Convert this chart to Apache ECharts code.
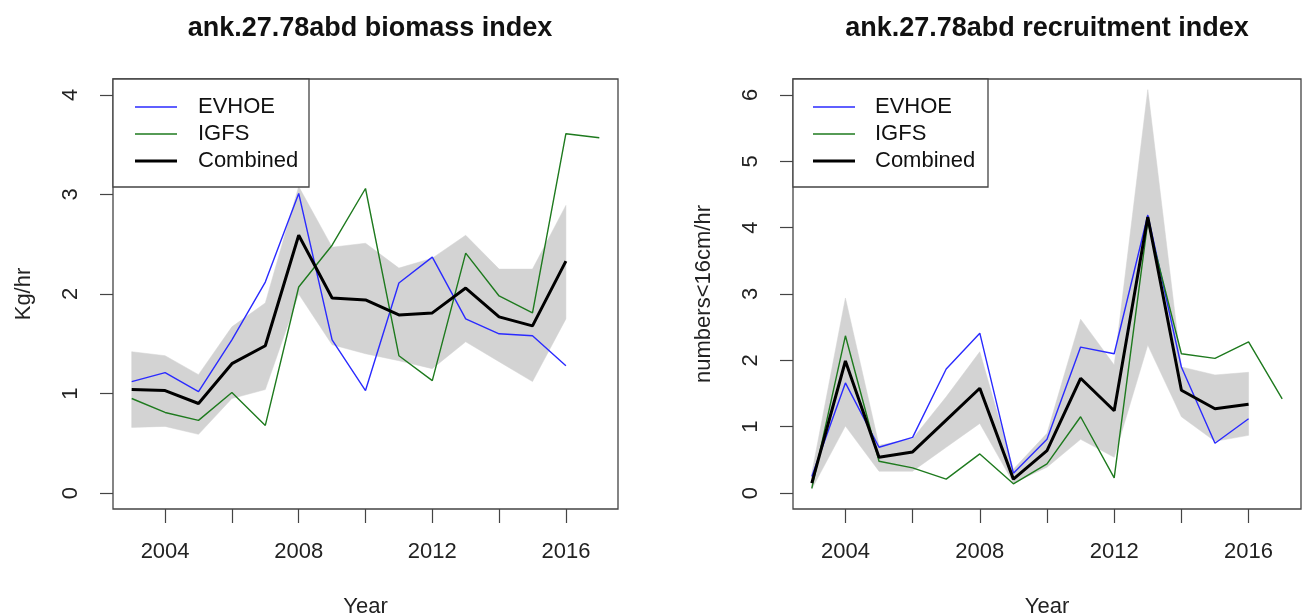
<!DOCTYPE html>
<html>
<head>
<meta charset="utf-8">
<script src="https://cdn.jsdelivr.net/npm/echarts@6/dist/echarts.min.js"></script>
<style>html,body{margin:0;padding:0;background:#fff;}#c{width:1305px;height:613px;}</style>
</head>
<body>
<div id="c"></div>
<script>
// ---- data ----
const years = [2003,2004,2005,2006,2007,2008,2009,2010,2011,2012,2013,2014,2015,2016];
const yearsIGFS = [2003,2004,2005,2006,2007,2008,2009,2010,2011,2012,2013,2014,2015,2016,2017];

const bioEVHOE = [1.12,1.21,1.02,1.54,2.12,3.01,1.54,1.03,2.11,2.37,1.75,1.60,1.58,1.28];
const bioIGFS  = [0.95,0.81,0.73,1.01,0.68,2.07,2.49,3.06,1.38,1.13,2.41,1.98,1.81,3.61,3.57];
const bioComb  = [1.04,1.03,0.90,1.30,1.48,2.59,1.96,1.94,1.79,1.81,2.06,1.77,1.68,2.33];
const bioUpper = [1.42,1.38,1.19,1.67,1.91,3.08,2.47,2.51,2.26,2.36,2.59,2.25,2.25,2.89];
const bioLower = [0.66,0.67,0.59,0.95,1.04,2.00,1.49,1.40,1.33,1.25,1.52,1.32,1.12,1.75];

const recEVHOE = [0.25,1.66,0.69,0.84,1.87,2.41,0.30,0.81,2.20,2.10,4.19,1.90,0.75,1.12];
const recIGFS  = [0.07,2.37,0.48,0.38,0.21,0.59,0.14,0.44,1.15,0.23,4.09,2.10,2.03,2.28,1.42];
const recComb  = [0.15,1.99,0.54,0.62,1.10,1.58,0.21,0.64,1.73,1.24,4.16,1.55,1.27,1.34];
const recUpper = [0.30,2.94,0.72,0.82,1.45,2.13,0.36,0.90,2.62,1.93,6.08,1.90,1.78,1.82];
const recLower = [0.06,1.01,0.33,0.33,0.69,1.05,0.15,0.39,0.81,0.54,2.23,1.15,0.78,0.87];

const xTicks = [2004,2006,2008,2010,2012,2014,2016];
const xLabels = [2004,2008,2012,2016];
const bioTicks = [0,1,2,3,4];
const recTicks = [0,1,2,3,4,5,6];

const titles = ['ank.27.78abd biomass index','ank.27.78abd recruitment index'];
const yNames = ['Kg/hr','numbers<16cm/hr'];
const xName = 'Year';
const seriesNames = ['EVHOE','IGFS','Combined'];

// ---- helpers ----
const FONT = '"Liberation Sans", Arial, sans-serif';
const pairs = (xs, ys) => ys.map((v, i) => [xs[i], v]);
const COL = {EVHOE: '#2a2aff', IGFS: '#1e7a1e', Combined: '#000000'};

function xAxis(gi) {
  return {
    type: 'value', gridIndex: gi, min: 2002.44, max: 2017.56, position: 'bottom',
    name: xName, nameLocation: 'middle', nameGap: 87,
    nameTextStyle: {fontFamily: FONT, fontSize: 22, color: '#222'},
    splitLine: {show: false}, axisLine: {show: false, onZero: false},
    axisTick: {show: true, inside: false, length: 14, customValues: xTicks, lineStyle: {color: '#444', width: 1.2}},
    axisLabel: {customValues: xLabels, margin: 32, fontFamily: FONT, fontSize: 22, color: '#222',
                formatter: v => String(v)}
  };
}
function yAxis(gi, ticks, mn, mx, nm) {
  return {
    type: 'value', gridIndex: gi, min: mn, max: mx, position: 'left',
    name: nm, nameLocation: 'middle', nameGap: 78, nameRotate: 90,
    nameTextStyle: {fontFamily: FONT, fontSize: 22, color: '#222'},
    splitLine: {show: false}, axisLine: {show: false, onZero: false},
    axisTick: {show: true, inside: false, length: 13, customValues: ticks, lineStyle: {color: '#444', width: 1.2}},
    axisLabel: {customValues: ticks, rotate: 90, margin: 31, fontFamily: FONT, fontSize: 22, color: '#222'}
  };
}
function bandSeries(gi, up, lo, tag) {
  return {
    type: 'custom', name: 'band' + tag, xAxisIndex: gi, yAxisIndex: gi, silent: true, z: 1,
    data: years.map((y, i) => [y, lo[i], up[i]]),
    encode: {x: 0, y: [1, 2]},
    renderItem: function (params, api) {
      if (params.dataIndex !== 0) return;
      const pts = [];
      for (let i = 0; i < years.length; i++) pts.push(api.coord([years[i], up[i]]));
      for (let i = years.length - 1; i >= 0; i--) pts.push(api.coord([years[i], lo[i]]));
      return {type: 'polygon', shape: {points: pts}, style: {fill: '#d3d3d3', stroke: '#d3d3d3', lineWidth: 0.5}};
    }
  };
}
function lineSeries(gi, ev, ig, cb) {
  return [
    {type: 'line', name: 'EVHOE', xAxisIndex: gi, yAxisIndex: gi, data: pairs(years, ev), symbol: 'none',
     color: COL.EVHOE, lineStyle: {color: COL.EVHOE, width: 1.4}, z: 2},
    {type: 'line', name: 'IGFS', xAxisIndex: gi, yAxisIndex: gi, data: pairs(yearsIGFS, ig), symbol: 'none',
     color: COL.IGFS, lineStyle: {color: COL.IGFS, width: 1.4}, z: 2},
    {type: 'line', name: 'Combined', xAxisIndex: gi, yAxisIndex: gi, data: pairs(years, cb), symbol: 'none',
     color: COL.Combined, lineStyle: {color: COL.Combined, width: 3}, z: 3}
  ];
}
function legends(iconLeft, textPad) {
  const rows = [107, 134, 161];
  return seriesNames.map((n, i) => ({
    data: [n], left: iconLeft, top: rows[i] - 12, orient: 'horizontal', padding: 0,
    icon: 'rect', itemWidth: 42, itemHeight: n === 'Combined' ? 3 : 1.4,
    selectedMode: false, z: 6,
    textStyle: {fontFamily: FONT, fontSize: 22, color: '#111', padding: [0, 0, 0, textPad], lineHeight: 24}
  }));
}

const chart = echarts.init(document.getElementById('c'), null, {renderer: 'canvas'});
chart.setOption({
  animation: false,
  backgroundColor: '#fff',
  title: [
    {text: titles[0], left: 365, top: 10, textAlign: 'center',
     textStyle: {fontFamily: FONT, fontSize: 27, fontWeight: 'bold', color: '#111'}},
    {text: titles[1], left: 1042, top: 10, textAlign: 'center',
     textStyle: {fontFamily: FONT, fontSize: 27, fontWeight: 'bold', color: '#111'}}
  ],
  grid: [
    {left: 113, top: 79, width: 505, height: 430, show: true, borderColor: '#444', borderWidth: 1.3,
     backgroundColor: 'transparent', containLabel: false, outerBoundsMode: 'none'},
    {left: 793, top: 79, width: 508, height: 430, show: true, borderColor: '#444', borderWidth: 1.3,
     backgroundColor: 'transparent', containLabel: false, outerBoundsMode: 'none'}
  ],
  xAxis: [xAxis(0), xAxis(1)],
  yAxis: [yAxis(0, bioTicks, -0.16, 4.16, yNames[0]), yAxis(1, recTicks, -0.24, 6.24, yNames[1])],
  legend: legends(135, 16).concat(legends(813, 15)),
  graphic: [
    {type: 'rect', shape: {x: 113, y: 79, width: 196, height: 108}, style: {fill: '#fff', stroke: '#444', lineWidth: 1.3}, z: 5, silent: true},
    {type: 'rect', shape: {x: 793, y: 79, width: 195, height: 108}, style: {fill: '#fff', stroke: '#444', lineWidth: 1.3}, z: 5, silent: true}
  ],
  series: [].concat(
    [bandSeries(0, bioUpper, bioLower, 'L')],
    lineSeries(0, bioEVHOE, bioIGFS, bioComb),
    [bandSeries(1, recUpper, recLower, 'R')],
    lineSeries(1, recEVHOE, recIGFS, recComb)
  )
});
</script>
</body>
</html>
